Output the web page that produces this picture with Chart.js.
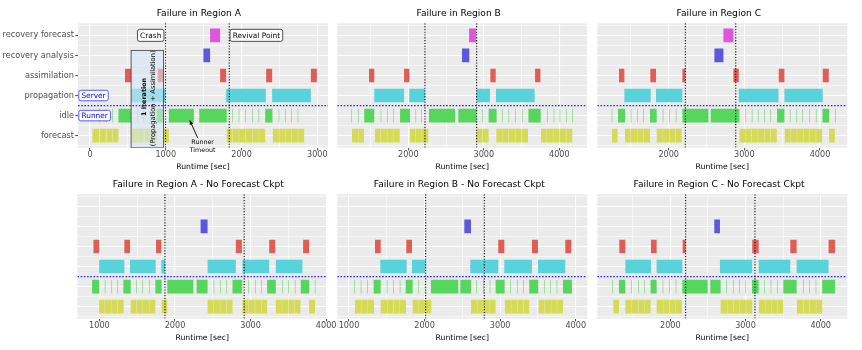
<!DOCTYPE html>
<html><head><meta charset="utf-8">
<script src="https://cdn.jsdelivr.net/npm/chart.js@4.4.1/dist/chart.umd.min.js"></script>
<style>
html,body{margin:0;padding:0;background:#fff;width:862px;height:350px;overflow:hidden;position:relative}
canvas{position:absolute}
</style></head><body>
<canvas id="cA" width="400" height="175" style="left:0px;top:0px"></canvas>
<canvas id="cA2" width="400" height="175" style="left:0px;top:171px"></canvas>
<canvas id="cB" width="262" height="175" style="left:330px;top:0px"></canvas>
<canvas id="cC" width="272" height="175" style="left:590px;top:0px"></canvas>
<canvas id="cB2" width="262" height="175" style="left:330px;top:171px"></canvas>
<canvas id="cC2" width="272" height="175" style="left:590px;top:171px"></canvas>
<script>
// ---------- categories (bottom to top) ----------
const categories = ['forecast', 'idle', 'propagation', 'assimilation', 'recovery analysis', 'recovery forecast'];
const titles = ['Failure in Region A', 'Failure in Region B', 'Failure in Region C',
  'Failure in Region A - No Forecast Ckpt', 'Failure in Region B - No Forecast Ckpt', 'Failure in Region C - No Forecast Ckpt'];

// ---------- Panel A ----------
const A_forecast = [[33,120],[129,209],[218,292],[297,376],[552,631],[635,709],[720,794],[803,878],[975,1041],[1805,1880],[1885,1964],[1968,2052],[2056,2141],[2145,2228],[2232,2312],[2413,2493],[2497,2576],[2580,2660],[2664,2743],[2748,2827]];
const A_idle = [[120,127],[209,216],[293,300],[376,543],[628,635],[708,715],[794,801],[878,975],[1041,1371],[1442,1805],[1879,1886],[1963,1970],[2051,2058],[2141,2148],[2225,2232],[2312,2408],[2491,2498],[2574,2581],[2658,2665],[2741,2748]];
const A_propagation = [[542,997],[1797,2321],[2404,2915]];
const A_assimilation = [[462,542],[894,969],[1717,1797],[2325,2404],[2915,2994]];
const A_recAnalysis = [[1497,1585]];
const A_recForecast = [[1585,1717]];
// ---------- Panel B ----------
const B_forecast = [[1255,1335],[1339,1414],[1559,1634],[1639,1718],[1722,1802],[1806,1886],[2022,2097],[2101,2177],[2181,2265],[2905,2980],[2985,3064],[3166,3241],[3245,3325],[3329,3413],[3418,3501],[3506,3585],[3758,3833],[3837,3921],[3925,4004],[4009,4088],[4093,4172]];
const B_idle = [[1248,1255],[1336,1343],[1417,1550],[1635,1642],[1718,1725],[1798,1805],[1891,2023],[2097,2104],[2173,2180],[2274,2619],[2663,2905],[2981,2988],[3064,3170],[3241,3248],[3329,3336],[3418,3425],[3506,3513],[3591,3754],[3838,3845],[3926,3933],[4005,4012],[4093,4100],[4172,4179]];
const B_propagation = [[1550,1944],[2014,2221],[2905,3082],[3161,3673]];
const B_assimilation = [[1480,1550],[1944,2014],[3087,3158],[3679,3750]];
const B_recAnalysis = [[2711,2808]];
const B_recForecast = [[2805,2896]];
// ---------- Panel C ----------
const C_forecast = [[1250,1325],[1422,1497],[1502,1581],[1586,1665],[1669,1753],[1841,1921],[1925,2004],[2009,2088],[2093,2172],[2935,3010],[3014,3093],[3098,3177],[3182,3261],[3265,3345],[3349,3429],[3534,3609],[3614,3693],[3698,3777],[3781,3861],[3865,3944],[3949,4028],[4121,4196]];
const C_idle = [[1247,1254],[1330,1422],[1499,1506],[1583,1590],[1662,1669],[1753,1841],[1922,1929],[2006,2013],[2094,2101],[2181,2525],[2556,2935],[3016,3023],[3099,3106],[3179,3186],[3262,3269],[3346,3353],[3433,3530],[3602,3609],[3690,3697],[3769,3776],[3858,3865],[3946,3953],[4033,4121],[4202,4209]];
const C_propagation = [[1414,1762],[1832,2181],[2926,3451],[3530,4037]];
const C_assimilation = [[1343,1414],[1757,1832],[2181,2222],[2855,2926],[3455,3530],[4037,4116]];
const C_recAnalysis = [[2604,2723]];
const C_recForecast = [[2723,2855]];
// ---------- Panel A - No Forecast Ckpt ----------
const A2_forecast = [[996,1070],[1075,1154],[1158,1238],[1242,1321],[1414,1489],[1493,1572],[1577,1656],[1660,1740],[1823,1898],[2431,2511],[2515,2594],[2598,2678],[2682,2761],[2893,2973],[2977,3056],[3061,3140],[3144,3219],[3334,3413],[3417,3497],[3501,3580],[3585,3660],[3774,3853]];
const A2_idle = [[903,996],[1072,1079],[1160,1167],[1239,1246],[1317,1414],[1490,1497],[1569,1576],[1658,1665],[1740,1823],[1898,2242],[2286,2431],[2512,2519],[2595,2602],[2679,2686],[2761,2889],[2970,2977],[3058,3065],[3141,3148],[3219,3334],[3419,3426],[3498,3505],[3586,3593],[3664,3774],[3850,3857]];
const A2_propagation = [[996,1330],[1405,1744],[1819,1867],[2431,2805],[2893,3246],[3334,3686]];
const A2_assimilation = [[921,996],[1330,1405],[1749,1819],[2805,2885],[3246,3325],[3695,3774]];
const A2_recAnalysis = [[2339,2431]];
const A2_recForecast = [];
// ---------- Panel B - No Forecast Ckpt ----------
const B2_forecast = [[1079,1159],[1163,1247],[1251,1331],[1419,1503],[1507,1586],[1591,1670],[1675,1754],[1842,1922],[1926,2005],[2010,2089],[2614,2693],[2698,2777],[2781,2861],[2865,2940],[3063,3143],[3147,3227],[3231,3306],[3310,3385],[3509,3588],[3592,3672],[3676,3751],[3755,3831]];
const B2_idle = [[1068,1075],[1156,1163],[1240,1247],[1326,1419],[1500,1507],[1588,1595],[1672,1679],[1750,1842],[1914,1921],[2002,2009],[2085,2446],[2473,2614],[2686,2693],[2774,2781],[2862,2869],[2940,3059],[3135,3142],[3224,3231],[3303,3310],[3385,3504],[3581,3588],[3665,3672],[3748,3755],[3831,3950]];
const B2_propagation = [[1414,1763],[1833,2014],[2605,2975],[3055,3421],[3500,3862]];
const B2_assimilation = [[1344,1419],[1758,1833],[2975,3055],[3421,3500],[3862,3941]];
const B2_recAnalysis = [[2526,2614]];
const B2_recForecast = [];
// ---------- Panel C - No Forecast Ckpt ----------
const C2_forecast = [[1242,1317],[1402,1486],[1490,1574],[1578,1659],[1663,1738],[1818,1902],[1906,1987],[1991,2071],[2075,2155],[2669,2754],[2758,2838],[2842,2922],[2926,3006],[3010,3090],[3179,3259],[3263,3343],[3347,3423],[3427,3503],[3684,3769],[3773,3853],[3857,3937],[3941,4021]];
const C2_idle = [[1230,1237],[1317,1402],[1483,1490],[1571,1578],[1651,1658],[1738,1818],[1899,1906],[1984,1991],[2072,2079],[2160,2496],[2532,2669],[2746,2753],[2835,2842],[2915,2922],[2999,3006],[3086,3175],[3247,3254],[3336,3343],[3424,3431],[3503,3680],[3766,3773],[3845,3852],[3934,3941],[4021,4190]];
const C2_propagation = [[1402,1743],[1818,2160],[2660,3090],[3175,3596],[3680,4105]];
const C2_assimilation = [[1322,1402],[1743,1818],[2164,2204],[3090,3175],[3596,3680],[4105,4190]];
const C2_recAnalysis = [[2585,2660]];
const C2_recForecast = [];

// ---------- events & ticks ----------
const crashTimes   = [997, 2221, 2220, 1867, 2014, 2204];
const revivalTimes = [1838, 2905, 2886, 2915, 2790, 3126];
const ticksA  = [0, 1000, 2000, 3000];
const ticksB  = [2000, 3000, 4000];
const ticksC  = [2000, 3000, 4000];
const ticksA2 = [1000, 2000, 3000, 4000];
const ticksB2 = [1000, 2000, 3000, 4000];
const ticksC2 = [2000, 3000, 4000];

// ---------- annotation values (panel A) ----------
const iterationSpan = [543, 971];
const iterationLevels = [0.4, 5.25];
const timeoutArrow = [[1421, 0.89], [1318, 1.76]];
const timeoutText = [1486, 0.67];
const splitLevel = 2.5;

// ---------- styles ----------
const FONT = "'DejaVu Sans'";
const fills = ['#d5da57', '#56d65c', '#58d3dc', '#e05d56', '#5c57dd', '#dd57dd'];

Chart.defaults.font.family = FONT;

function drawTag(ctx, text, x, yc, anchor, font, color, border, padX, h) {
  ctx.font = font;
  const w = ctx.measureText(text).width + 2 * padX;
  const left = anchor === 'right' ? x - w : x;
  const top = yc - h / 2, r = 2;
  ctx.beginPath();
  ctx.moveTo(left + r, top); ctx.lineTo(left + w - r, top); ctx.arcTo(left + w, top, left + w, top + r, r);
  ctx.lineTo(left + w, top + h - r); ctx.arcTo(left + w, top + h, left + w - r, top + h, r);
  ctx.lineTo(left + r, top + h); ctx.arcTo(left, top + h, left, top + h - r, r);
  ctx.lineTo(left, top + r); ctx.arcTo(left, top, left + r, top, r); ctx.closePath();
  ctx.fillStyle = '#ffffff'; ctx.fill();
  ctx.lineWidth = 0.8; ctx.strokeStyle = border; ctx.stroke();
  ctx.fillStyle = color; ctx.textAlign = 'center'; ctx.textBaseline = 'middle';
  ctx.fillText(text, left + w / 2, yc + 0.4);
}

const decor = {
  id: 'decor',
  beforeDraw(chart) {
    const a = chart.chartArea, ctx = chart.ctx;
    ctx.save(); ctx.fillStyle = '#EBEBEB';
    ctx.fillRect(a.left, a.top, a.right - a.left, a.bottom - a.top); ctx.restore();
  },
  afterDatasetsDraw(chart, args, o) {
    const {ctx, chartArea: a} = chart;
    const X = v => chart.scales.x.getPixelForValue(v), Y = v => chart.scales.y.getPixelForValue(v);
    ctx.save();
    ctx.beginPath(); ctx.rect(a.left, a.top, a.right - a.left, a.bottom - a.top); ctx.clip();
    if (o.extras) {
      const x0 = X(iterationSpan[0]), x1 = X(iterationSpan[1]);
      const y0 = Y(iterationLevels[1]), y1 = Y(iterationLevels[0]);
      ctx.fillStyle = 'rgba(214,228,246,0.58)';
      ctx.fillRect(x0, y0, x1 - x0, y1 - y0);
      ctx.strokeStyle = '#3c3c3c'; ctx.lineWidth = 0.8; ctx.strokeRect(x0, y0, x1 - x0, y1 - y0);
      ctx.fillStyle = '#000';
      ctx.textAlign = 'center'; ctx.textBaseline = 'middle';
      ctx.save(); ctx.translate(X(711), Y(2.93)); ctx.rotate(-Math.PI / 2);
      ctx.font = 'bold 6.4px ' + FONT; ctx.fillText('1 Iteration', 0, 0); ctx.restore();
      ctx.save(); ctx.translate(X(834), Y(2.86)); ctx.rotate(-Math.PI / 2);
      ctx.font = '6.7px ' + FONT; ctx.fillText('(Propagation + Assimilation)', 0, 0); ctx.restore();
      const [t, h] = timeoutArrow;
      const tx = X(t[0]), ty = Y(t[1]), hx = X(h[0]), hy = Y(h[1]);
      ctx.strokeStyle = '#000'; ctx.lineWidth = 0.9;
      ctx.beginPath(); ctx.moveTo(tx, ty); ctx.lineTo(hx, hy); ctx.stroke();
      const ang = Math.atan2(hy - ty, hx - tx), L = 4.6;
      ctx.beginPath();
      ctx.moveTo(hx - L * Math.cos(ang - 0.45), hy - L * Math.sin(ang - 0.45));
      ctx.lineTo(hx, hy);
      ctx.lineTo(hx - L * Math.cos(ang + 0.45), hy - L * Math.sin(ang + 0.45));
      ctx.closePath(); ctx.fillStyle = '#000'; ctx.fill();
    }
    ctx.setLineDash([1.6, 1.6]); ctx.strokeStyle = '#2222ff'; ctx.lineWidth = 1.3;
    const ys = Y(splitLevel);
    ctx.beginPath(); ctx.moveTo(a.left, ys); ctx.lineTo(a.right, ys); ctx.stroke();
    ctx.setLineDash([1.1, 1.7]); ctx.strokeStyle = '#000'; ctx.lineWidth = 1.1;
    o.events.forEach(v => {
      const px = X(v);
      ctx.beginPath(); ctx.moveTo(px, a.top); ctx.lineTo(px, a.bottom); ctx.stroke();
    });
    ctx.setLineDash([]);
    if (o.extras) {
      drawTag(ctx, 'Crash', X(o.events[0]) - 1.6, Y(6), 'right', '7.4px ' + FONT, '#000', '#222', 2.6, 12);
      drawTag(ctx, 'Revival Point', X(o.events[1]) + 0.8, Y(6), 'left', '7.4px ' + FONT, '#000', '#222', 2.6, 12);
      drawTag(ctx, 'Server', a.left + 0.8, Y(3), 'left', '7.4px ' + FONT, '#0000ff', '#3333ff', 2.6, 10.5);
      drawTag(ctx, 'Runner', a.left + 0.8, Y(2), 'left', '7.4px ' + FONT, '#0000ff', '#3333ff', 2.6, 10.5);
    }
    ctx.restore();
    if (o.extras) {
      // timeout note: clipped a little below the panel, as in the original
      ctx.save();
      ctx.beginPath(); ctx.rect(a.left, a.top, a.right - a.left, a.bottom - a.top + 4.6); ctx.clip();
      ctx.font = '6.3px ' + FONT; ctx.fillStyle = '#000'; ctx.textAlign = 'center'; ctx.textBaseline = 'middle';
      ctx.fillText('Runner', X(timeoutText[0]), Y(timeoutText[1]));
      ctx.fillText('Timeout', X(timeoutText[0]), Y(timeoutText[1]) + 7.6);
      ctx.restore();
    }
  }
};

// layout: pl/pr = layout padding, yw = left axis width, rw = blank right box width
const panels = [
  {id: 'cA',  series: [A_forecast, A_idle, A_propagation, A_assimilation, A_recAnalysis, A_recForecast], ticks: ticksA, x: [-158, 3141], pl: 0, pr: 2.4, yw: 78, rw: 69.6, showY: true, extras: true},
  {id: 'cB',  series: [B_forecast, B_idle, B_propagation, B_assimilation, B_recAnalysis, B_recForecast], ticks: ticksB, x: [1060, 4367], pl: 0.4, pr: 5, yw: 6.9, rw: 0},
  {id: 'cC',  series: [C_forecast, C_idle, C_propagation, C_assimilation, C_recAnalysis, C_recForecast], ticks: ticksC, x: [1056, 4361], pl: 0.3, pr: 14.7, yw: 7.0, rw: 0},
  {id: 'cA2', series: [A2_forecast, A2_idle, A2_propagation, A2_assimilation, A2_recAnalysis, A2_recForecast], ticks: ticksA2, x: [710, 4011], pl: 0, pr: 3.4, yw: 77.5, rw: 69.6},
  {id: 'cB2', series: [B2_forecast, B2_idle, B2_propagation, B2_assimilation, B2_recAnalysis, B2_recForecast], ticks: ticksB2, x: [845, 4153], pl: 1.3, pr: 4.7, yw: 6.0, rw: 0},
  {id: 'cC2', series: [C2_forecast, C2_idle, C2_propagation, C2_assimilation, C2_recAnalysis, C2_recForecast], ticks: ticksC2, x: [1029, 4354], pl: 0.7, pr: 14.7, yw: 6.6, rw: 0}
];
const panelIndex = {cA: 0, cB: 1, cC: 2, cA2: 3, cB2: 4, cC2: 5};

panels.forEach(p => {
  const k = panelIndex[p.id];
  const [xmin, xmax] = p.x;
  const xTickVals = [];
  p.ticks.forEach(m => { [m - 500, m, m + 500].forEach(v => { if (v >= xmin && v <= xmax && !xTickVals.includes(v)) xTickVals.push(v); }); });
  xTickVals.sort((a, b) => a - b);
  const yTickVals = [];
  for (let i = 1; i <= categories.length; i++) { yTickVals.push(i - 0.5, i); }
  yTickVals.push(categories.length + 0.5);

  const datasets = categories.map((cat, i) => ({
    label: cat,
    data: p.series[i].map(([s, e]) => ({x: [s, e], y: i + 1})),
    backgroundColor: fills[i],
    borderWidth: 0,
    inflateAmount: 0,
    barThickness: 13.6,
    stack: 'all'
  }));

  const scales = {
    x: {
      type: 'linear', min: xmin, max: xmax, stacked: false, offset: false,
      afterBuildTicks: s => { s.ticks = xTickVals.map(v => ({value: v})); },
      afterFit: s => { s.height = 27.3; },
      border: {display: false},
      grid: {
        offset: false,
        color: '#ffffff',
        lineWidth: c => (c.tick && c.tick.value % 1000 === 0) ? 1.1 : 0.55,
        tickColor: c => (c.tick && c.tick.value % 1000 === 0) ? '#333333' : 'rgba(0,0,0,0)',
        tickLength: 2.7, tickWidth: 0.9
      },
      ticks: {
        autoSkip: false, maxRotation: 0, padding: 0, color: '#4D4D4D',
        font: {size: 8.1, family: FONT},
        callback: v => (v % 1000 === 0 ? String(v) : '')
      },
      title: {display: true, text: 'Runtime [sec]', color: '#000', font: {size: 7.7, family: FONT}, padding: {top: 0, bottom: 3.1}}
    },
    y: {
      type: 'linear', min: 0.4, max: 6.6, offset: false,
      afterBuildTicks: s => { s.ticks = yTickVals.map(v => ({value: v})); },
      afterFit: s => { s.width = p.yw; },
      border: {display: false},
      grid: {
        offset: false,
        color: '#ffffff',
        lineWidth: c => (c.tick && Number.isInteger(c.tick.value)) ? 1.1 : 0.55,
        tickColor: c => (c.tick && Number.isInteger(c.tick.value)) ? '#333333' : 'rgba(0,0,0,0)',
        drawTicks: !!p.showY, tickLength: 2.7, tickWidth: 0.9
      },
      ticks: {
        display: !!p.showY, autoSkip: false, padding: 1.3, color: '#4D4D4D',
        font: {size: 8.2, family: FONT},
        callback: v => (Number.isInteger(v) ? categories[v - 1] : '')
      }
    }
  };
  if (p.rw > 0) {
    scales.blank = {
      type: 'linear', position: 'right', display: true, offset: false,
      afterFit: s => { s.width = p.rw; },
      border: {display: false}, grid: {display: false}, ticks: {display: false}
    };
  }

  new Chart(document.getElementById(p.id), {
    type: 'bar',
    data: {datasets},
    plugins: [decor],
    options: {
      indexAxis: 'y',
      responsive: false,
      animation: false,
      events: [],
      layout: {padding: {left: p.pl, right: p.pr, top: 0, bottom: 0}},
      plugins: {
        legend: {display: false},
        tooltip: {enabled: false},
        title: {display: true, text: titles[k], color: '#000', font: {size: 9.1, weight: 'normal', family: FONT}, padding: {top: 8.54, bottom: 3.84}},
        decor: {events: [crashTimes[k], revivalTimes[k]], extras: !!p.extras}
      },
      scales
    }
  });
});
</script>
</body></html>
